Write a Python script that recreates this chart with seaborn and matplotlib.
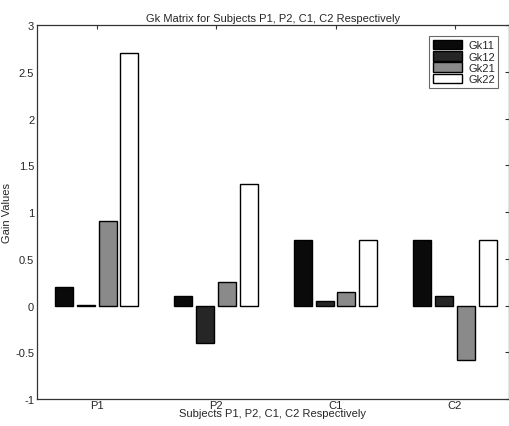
import matplotlib
matplotlib.use("Agg")
import matplotlib.pyplot as plt
import seaborn as sns
import pandas as pd

subjects = ["P1", "P2", "C1", "C2"]
series_names = ["Gk11", "Gk12", "Gk21", "Gk22"]
gk11 = [0.2, 0.1, 0.7, 0.7]
gk12 = [0.005, -0.4, 0.05, 0.1]
gk21 = [0.9, 0.25, 0.15, -0.58]
gk22 = [2.7, 1.3, 0.7, 0.7]
yticks = [-1, -0.5, 0, 0.5, 1, 1.5, 2, 2.5, 3]
ytick_labels = ["-1", "-0.5", "0", "0.5", "1", "1.5", "2", "2.5", "3"]

rows = []
for name, vals in zip(series_names, [gk11, gk12, gk21, gk22]):
    for s, v in zip(subjects, vals):
        rows.append({"Subject": s, "Series": name, "Value": v})
df = pd.DataFrame(rows)

sns.set_style("white")
plt.rcParams["font.family"] = ["Liberation Sans", "DejaVu Sans"]

fig = plt.figure(figsize=(5.10, 4.27), dpi=100)
ax = fig.add_axes([0.0725, 0.063, 0.925, 0.876])

palette = {"Gk11": "#0a0a0a", "Gk12": "#262626", "Gk21": "#8a8a8a", "Gk22": "#ffffff"}
sns.barplot(data=df, x="Subject", y="Value", hue="Series", order=subjects,
            hue_order=series_names, palette=palette, width=0.73, gap=0.17,
            edgecolor="black", linewidth=1.0, errorbar=None, ax=ax, saturation=1)

ax.set_xlim(-0.5, 3.45)
ax.set_ylim(-1, 3)
ax.set_yticks(yticks)
ax.set_yticklabels(ytick_labels)
ax.tick_params(axis="both", direction="in", length=3, labelsize=8, top=True, right=True,
               color="#333333", pad=2)
ax.tick_params(axis="x", pad=1)
for sp in ax.spines.values():
    sp.set_visible(True)
    sp.set_color("#333333")
    sp.set_linewidth(0.9)

ax.set_title("Gk Matrix for Subjects P1, P2, C1, C2 Respectively", fontsize=8, pad=3)
ax.set_xlabel("Subjects P1, P2, C1, C2 Respectively", fontsize=8, labelpad=-2)
ax.set_ylabel("Gain Values", fontsize=8, labelpad=2)

leg = ax.legend(loc="upper right", fontsize=8, frameon=True, fancybox=False,
                edgecolor="#444444", handlelength=2.6, handleheight=1.0,
                labelspacing=0.05, borderpad=0.3, handletextpad=0.6,
                bbox_to_anchor=(0.99, 0.985))
leg.get_frame().set_linewidth(0.8)

fig.savefig("out.png", dpi=100, facecolor="white")
